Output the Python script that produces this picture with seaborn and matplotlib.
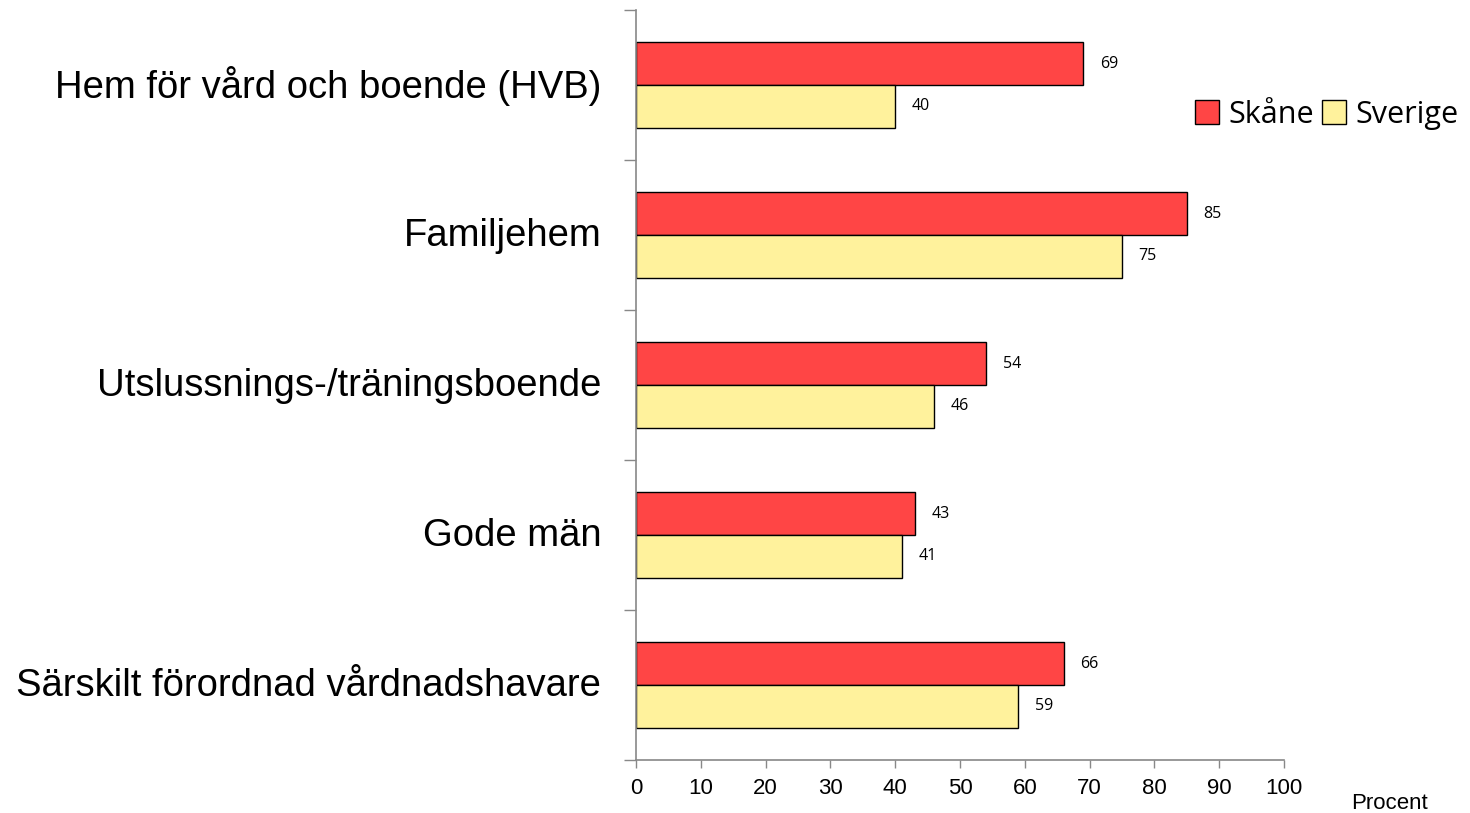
import pandas as pd
import seaborn as sns
import matplotlib.pyplot as plt
from matplotlib.ticker import FixedLocator, MultipleLocator
from matplotlib.transforms import ScaledTranslation

categories = [
    "Hem för vård och boende (HVB)",
    "Familjehem",
    "Utslussnings-/träningsboende",
    "Gode män",
    "Särskilt förordnad vårdnadshavare",
]
skane = [69, 85, 54, 43, 66]
sverige = [40, 75, 46, 41, 59]
series = ["Skåne", "Sverige"]
colors = ["#FF4545", "#FFF29C"]

df = pd.DataFrame({
    "kategori": categories * 2,
    "procent": skane + sverige,
    "region": [series[0]] * len(categories) + [series[1]] * len(categories),
})

sns.set_style("white")
plt.rcParams["font.family"] = ["Liberation Sans", "DejaVu Sans"]
plt.rcParams["text.color"] = "black"
plt.rcParams["xtick.color"] = "black"
plt.rcParams["ytick.color"] = "black"

fig = plt.figure(figsize=(14.7, 8.13), dpi=100)
ax = fig.add_axes([0.4327, 0.0652, 0.8735 - 0.4327, 0.9877 - 0.0652])

sns.barplot(data=df, x="procent", y="kategori", hue="region", order=categories,
            hue_order=series, palette=colors, orient="h", width=0.57,
            edgecolor="black", linewidth=1, saturation=1, ax=ax, legend=True)

for cont in ax.containers:
    for t in ax.bar_label(cont, padding=12, fontsize=11.5, color="black",
                          family=["Open Sans", "DejaVu Sans"]):
        t.set_transform(t.get_transform() + ScaledTranslation(0, -1.5 / 72, fig.dpi_scale_trans))

ax.set_xlim(0, 100)
ax.set_ylim(4.5, -0.5)
ax.xaxis.set_major_locator(MultipleLocator(10))
ax.tick_params(axis="x", bottom=True, length=6, width=1, color="#888888",
               labelsize=16, pad=7, labelcolor="black")
ax.tick_params(axis="y", which="major", left=True, length=0, labelsize=27.5,
               pad=25, labelcolor="black")
ax.yaxis.set_minor_locator(FixedLocator([i - 0.5 for i in range(len(categories) + 1)]))
ax.tick_params(axis="y", which="minor", left=True, length=9, width=1, color="#888888")
for lbl in ax.get_yticklabels():
    lbl.set_transform(lbl.get_transform() + ScaledTranslation(0, 2.5 / 72, fig.dpi_scale_trans))
for side in ["top", "right"]:
    ax.spines[side].set_visible(False)
for side in ["left", "bottom"]:
    ax.spines[side].set_color("#888888")
    ax.spines[side].set_linewidth(1.2)
ax.set_xlabel("")
ax.set_ylabel("")

fig.text(0.9455, 0.0123, "Procent", fontsize=16, ha="center", va="center")

handles, labels = ax.get_legend_handles_labels()
ax.legend_.remove()
fig.legend(handles, labels, loc="center", bbox_to_anchor=(0.9025, 0.859), ncol=2,
           frameon=False, prop={"family": ["Open Sans", "DejaVu Sans"], "size": 22},
           handlelength=0.8, handleheight=0.8, handletextpad=0.3, columnspacing=0.25,
           borderaxespad=0)

fig.savefig("out.png", dpi=100)
